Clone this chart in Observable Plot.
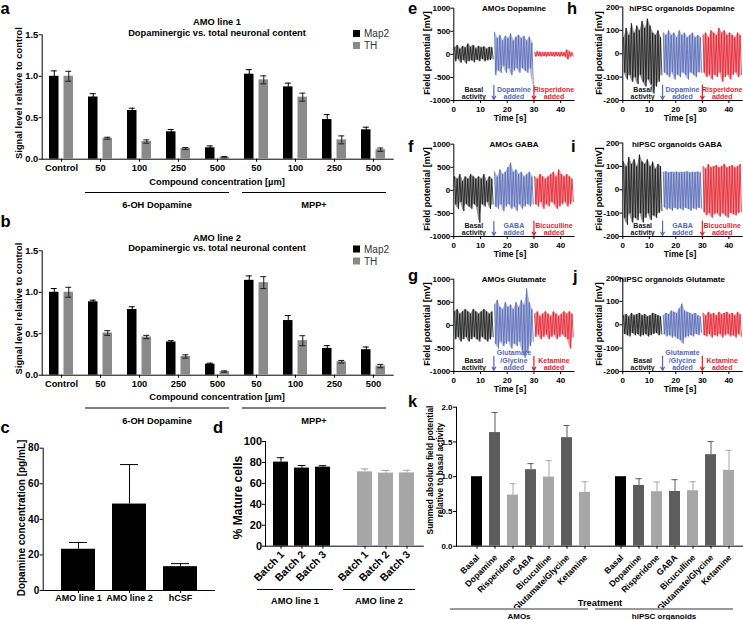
<!DOCTYPE html>
<html><head><meta charset="utf-8">
<script src="https://cdn.jsdelivr.net/npm/d3@7"></script>
<script src="https://cdn.jsdelivr.net/npm/@observablehq/plot@0.6"></script>
<style>
html,body{margin:0;padding:0;background:#fff;overflow:hidden;}
#root{position:relative;width:743px;height:620px;overflow:hidden;background:#fff;}
.panel{position:absolute;}
#overlay{position:absolute;left:0;top:0;pointer-events:none;}
</style></head><body><div id="root"></div>
<script>
// ---------------- DATA ----------------
// panels a, b
const concLabels = ["Control","50","100","250","500","50","100","250","500"];
const aMap2    = [1.00,0.75,0.587,0.33,0.137,1.025,0.872,0.478,0.354];
const aMap2Err = [0.065,0.04,0.028,0.028,0.023,0.055,0.045,0.06,0.032];
const aTH      = [1.00,0.253,0.213,0.129,0.024,0.957,0.748,0.233,0.115];
const aTHErr   = [0.06,0.012,0.02,0.012,0.008,0.048,0.048,0.048,0.02];
const bMap2    = [1.00,0.885,0.792,0.40,0.133,1.144,0.659,0.323,0.307];
const bMap2Err = [0.045,0.02,0.033,0.016,0.012,0.053,0.06,0.033,0.033];
const bTH      = [1.00,0.509,0.46,0.226,0.044,1.116,0.416,0.162,0.11];
const bTHErr   = [0.06,0.028,0.02,0.02,0.008,0.072,0.06,0.016,0.02];
// panel c
const cSamples = ["AMO line 1","AMO line 2","hCSF"];
const cDopa    = [23.2,48.6,13.4];
const cDopaErr = [3.8,22.2,1.7];
// panel d
const dBatches = ["Batch 1","Batch 2","Batch 3"];
const dLines   = ["AMO line 1","AMO line 2"];
const dLine1    = [80.3,74.6,75.5];
const dLine1Err = [4.2,2.5,1.4];
const dLine2    = [71.0,69.8,70.0];
const dLine2Err = [2.8,2.5,2.5];
// panels e-j (envelope of field potential per 1 s bin: basal | drug | antagonist)
const segStart = [0,15,30];
const eHi = [150,200,120,180,150,230,160,200,130,180,150,170,120,160,150, 480,350,420,300,400,350,450,300,380,420,350,400,300,380,250, 40,60,50,40,50,40,50,40,50,40,50,40,100,60,40];
const eLo = [-150,-100,-180,-120,-200,-150,-130,-170,-120,-150,-100,-150,-130,-120,-100, -450,-350,-400,-250,-400,-300,-450,-350,-300,-400,-300,-350,-400,-300,-650, -50,-40,-50,-40,-50,-40,-40,-50,-40,-50,-40,-50,-110,-50,-40];
const fHi = [300,250,350,200,300,250,350,300,250,300,250,350,200,300,250, 400,300,450,350,400,500,600,400,450,350,400,300,350,400,300, 300,250,350,300,250,300,350,400,300,450,350,300,350,300,250];
const fLo = [-300,-400,-250,-450,-300,-350,-400,-300,-350,-700,-300,-350,-250,-400,-300, -350,-400,-300,-450,-350,-300,-400,-350,-450,-300,-400,-350,-300,-350,-300, -300,-350,-250,-400,-300,-350,-250,-300,-400,-350,-300,-250,-350,-300,-250];
const gHi = [300,350,250,300,350,300,250,350,300,250,300,350,300,250,300, 450,550,400,350,500,400,450,350,500,400,550,450,800,500,350, 250,300,200,250,300,250,200,300,250,200,250,300,250,300,250];
const gLo = [-300,-250,-350,-300,-250,-350,-300,-250,-300,-350,-250,-300,-350,-300,-250, -400,-500,-350,-450,-400,-350,-500,-400,-450,-350,-550,-700,-600,-450,-350, -250,-200,-300,-250,-200,-300,-250,-200,-300,-250,-200,-250,-300,-500,-250];
const hHi = [70,110,80,130,90,120,100,140,110,150,120,90,80,100,70, 90,80,100,80,90,70,100,80,90,70,80,90,70,80,70, 80,90,70,100,90,80,110,90,100,80,90,80,70,90,80];
const hLo = [-80,-110,-90,-120,-100,-130,-90,-120,-140,-110,-130,-170,-140,-120,-90, -80,-90,-100,-80,-110,-90,-100,-80,-90,-110,-80,-90,-100,-80,-80, -80,-100,-90,-110,-90,-100,-80,-120,-100,-90,-110,-90,-80,-100,-90];
const iHi = [120,100,140,110,130,100,150,120,110,130,100,120,90,110,100, 75,78,74,76,75,77,74,76,75,78,74,76,75,77,74, 100,90,110,95,100,105,95,100,110,95,100,105,95,100,110];
const iLo = [-120,-150,-100,-140,-120,-130,-100,-140,-120,-100,-130,-110,-120,-100,-90, -75,-85,-80,-90,-78,-85,-80,-88,-78,-82,-90,-80,-85,-78,-80, -95,-110,-100,-120,-105,-100,-115,-100,-110,-120,-100,-105,-110,-100,-95];
const jHi = [40,45,35,50,40,45,50,40,45,35,40,50,45,40,35, 40,50,45,60,55,50,70,90,60,55,50,45,50,40,35, 50,40,55,45,50,40,55,45,50,55,45,50,40,55,45];
const jLo = [-40,-45,-50,-35,-45,-40,-50,-45,-40,-50,-45,-40,-35,-45,-40, -40,-50,-45,-55,-50,-60,-65,-80,-55,-50,-45,-50,-40,-45,-35, -45,-50,-40,-55,-45,-50,-40,-55,-45,-40,-50,-45,-55,-40,-50];
const dopaLabels = ["Basal\nactivity","Dopamine\nadded","Risperidone\nadded"];
const gabaLabels = ["Basal\nactivity","GABA\nadded","Bicuculline\nadded"];
const gluLabels  = ["Basal\nactivity","Glutamate\n/Glycine\nadded","Ketamine\nadded"];
const arrowTimes = [15,30];
// panel k
const kGroups   = ["AMOs","hiPSC organoids"];
const kTreat    = ["Basal","Dopamine","Risperidone","GABA","Bicuculline","Glutamate/Glycine","Ketamine"];
const kTone     = ["basal","dark","light","dark","light","dark","light"];
const kAmo      = [1.00,1.635,0.736,1.101,0.995,1.562,0.774];
const kAmoErr   = [0,0.288,0.163,0.087,0.236,0.174,0.154];
const kIpsc     = [1.00,0.875,0.784,0.788,0.798,1.317,1.091];
const kIpscErr  = [0,0.096,0.139,0.169,0.13,0.188,0.289];

// ---------------- STYLE / HELPERS ----------------
const FONT = '"Liberation Sans", Arial, sans-serif';
const segColors = ["#151515","#5468b6","#e41f2c"];
const toneColor = {basal:"#000000", dark:"#5d5d5d", light:"#a7a7a7"};
const root = document.getElementById("root");
const st = (fs) => ({fontFamily: FONT, fontSize: fs + "px", fontWeight: "bold", background: "transparent", color: "#000", maxWidth: "none", overflow: "visible"});
function mount(svg, left, top) {
  const d = document.createElement("div");
  d.className = "panel"; d.style.left = left + "px"; d.style.top = top + "px";
  d.appendChild(svg); root.appendChild(d);
}

// ---------------- PANELS a, b ----------------
function plotAB(map2, map2Err, th, thErr) {
  const keys = concLabels.map((l, i) => i + ":" + l);
  const rows = keys.map((k, i) => ({k, m: map2[i], me: map2Err[i], t: th[i], te: thErr[i]}));
  const err = (v, e, dx, c) => [
    Plot.ruleX(rows, {x: "k", y1: d => d[v] - d[e], y2: d => d[v] + d[e], dx, stroke: c}),
    Plot.tickY(rows, {x: "k", y: d => d[v] + d[e], dx, inset: 9, stroke: c}),
    Plot.tickY(rows, {x: "k", y: d => d[v] - d[e], dx, inset: 9, stroke: c})
  ];
  return Plot.plot({
    width: 400, height: 180, marginLeft: 41.7, marginRight: 7.3, marginTop: 34.3, marginBottom: 21.3,
    style: st(9.3),
    x: {domain: keys, paddingInner: 0.39, paddingOuter: 0.16, tickSize: 3, tickPadding: 1.7, tickFormat: k => k.split(":")[1], label: null, line: true},
    y: {domain: [0, 1.5], ticks: [0, 0.5, 1, 1.5], tickFormat: d3.format(".1f"), tickSize: 3, tickPadding: 1, label: null, line: true},
    marks: [
      Plot.barY(rows, {x: "k", y: "m", fill: "#000", insetRight: 14.5}),
      Plot.barY(rows, {x: "k", y: "t", fill: "#8a8a8a", insetLeft: 14.5}),
      ...err("m", "me", -7.25, "#000"),
      ...err("t", "te", 7.25, "#1a1a1a")
    ]
  });
}
mount(plotAB(aMap2, aMap2Err, aTH, aTHErr), 0, 0);
mount(plotAB(bMap2, bMap2Err, bTH, bTHErr), 0, 215.5);

// ---------------- PANEL c ----------------
{
  const rows = cSamples.map((s, i) => ({s, v: cDopa[i], e: cDopaErr[i]}));
  mount(Plot.plot({
    width: 220, height: 185, marginLeft: 42.7, marginRight: 6, marginTop: 17.7, marginBottom: 25,
    style: st(10),
    x: {domain: cSamples, paddingInner: 0.34, paddingOuter: 0.336, tickSize: 3, tickFormat: () => "", label: null, line: true},
    y: {domain: [0, 80], ticks: [0, 20, 40, 60, 80], tickSize: 3, tickPadding: 1, label: null, line: true},
    marks: [
      Plot.barY(rows, {x: "s", y: "v", fill: "#000"}),
      Plot.ruleX(rows, {x: "s", y1: "v", y2: d => d.v + d.e, stroke: "#000"}),
      Plot.tickY(rows, {x: "s", y: d => d.v + d.e, inset: 8, stroke: "#000"}),
      Plot.text(rows, {x: "s", text: "s", frameAnchor: "bottom", dy: 10, fontSize: 9})
    ]
  }), 0, 430);
}

// ---------------- PANEL d ----------------
{
  const rows = [];
  dLines.forEach((ln, li) => dBatches.forEach((b, bi) => rows.push({
    k: ln + "|" + b, b, v: (li ? dLine2 : dLine1)[bi], e: (li ? dLine2Err : dLine1Err)[bi], c: li ? "#a6a6a6" : "#000"
  })));
  const domain = [...rows.slice(0, 3).map(d => d.k), "gap", ...rows.slice(3).map(d => d.k)];
  mount(Plot.plot({
    width: 195, height: 190, marginLeft: 35, marginRight: 2.2, marginTop: 11, marginBottom: 74.3,
    style: st(11),
    x: {domain, ticks: rows.map(d => d.k), paddingInner: 0.27, paddingOuter: 0.34, tickSize: 3, tickFormat: () => "", label: null, line: true},
    y: {domain: [0, 100], ticks: [0, 20, 40, 60, 80, 100], tickSize: 3, tickPadding: 0.5, label: null, line: true},
    color: {type: "identity"},
    marks: [
      Plot.barY(rows, {x: "k", y: "v", fill: "c"}),
      Plot.ruleX(rows, {x: "k", y1: "v", y2: d => d.v + d.e, stroke: "c"}),
      Plot.tickY(rows, {x: "k", y: d => d.v + d.e, inset: 3.8, stroke: "c"}),
      Plot.text(rows, {x: "k", text: "b", frameAnchor: "bottom", rotate: -45, textAnchor: "end", dx: 4, dy: 9, fontSize: 10.5})
    ]
  }), 230, 430);
}

// ---------------- PANEL k ----------------
{
  const rows = [];
  kGroups.forEach((g, gi) => kTreat.forEach((t, ti) => rows.push({
    k: g + "|" + t, t, v: (gi ? kIpsc : kAmo)[ti], e: (gi ? kIpscErr : kAmoErr)[ti], c: toneColor[kTone[ti]]
  })));
  const domain = [...rows.slice(0, 7).map(d => d.k), "gap", ...rows.slice(7).map(d => d.k)];
  const withErr = rows.filter(d => d.e > 0);
  mount(Plot.plot({
    width: 350, height: 225, marginLeft: 56, marginRight: 0.8, marginTop: 11.7, marginBottom: 74.3,
    style: st(8),
    x: {domain, ticks: rows.map(d => d.k), paddingInner: 0.4, paddingOuter: 0.54, tickSize: 3, tickFormat: () => "", label: null, line: true},
    y: {domain: [0, 2], ticks: [0, 0.5, 1, 1.5, 2], tickFormat: d3.format(".1f"), tickSize: 3, tickPadding: 1, label: null, line: true},
    color: {type: "identity"},
    marks: [
      Plot.barY(rows, {x: "k", y: "v", fill: "c"}),
      Plot.ruleX(withErr, {x: "k", y1: "v", y2: d => d.v + d.e, stroke: "c"}),
      Plot.tickY(withErr, {x: "k", y: d => d.v + d.e, inset: 2.4, stroke: "c"}),
      Plot.text(rows, {x: "k", text: "t", frameAnchor: "bottom", rotate: -45, textAnchor: "end", dx: 3, dy: 12, fontSize: 8.6})
    ]
  }), 400, 395);
}

// ---------------- PANELS e-j ----------------
function tracePlot(hi, lo, ymax, labels, ml, mt, w) {
  const rows = hi.map((h, i) => ({seg: Math.floor(i / 15), t: segStart[Math.floor(i / 15)] + (i % 15) + 0.5, hi: h, lo: lo[i]}));
  const marks = [];
  segStart.forEach((s, si) => {
    const r = rows.filter(d => d.seg === si);
    const zig = r.flatMap(d => [{t: d.t - 0.25, v: d.hi}, {t: d.t + 0.25, v: d.lo}]);
    marks.push(Plot.areaY(r, {x: "t", y1: "lo", y2: "hi", fill: segColors[si], fillOpacity: 0.45}));
    marks.push(Plot.line(zig, {x: "t", y: "v", stroke: segColors[si], strokeWidth: 0.8}));
  });
  labels.forEach((l, i) => marks.push(Plot.text([segStart[i] + 7.5], {
    x: d => d, text: () => l, fill: segColors[i], frameAnchor: "bottom", lineAnchor: "bottom", dy: -1.5, fontSize: 7, lineHeight: 1.05
  })));
  const yTop = -ymax + 0.33 * ymax, yTip = -ymax + 0.025 * ymax;
  arrowTimes.forEach((t, i) => marks.push(Plot.arrow([t], {
    x1: d => d, x2: d => d, y1: () => yTop, y2: () => yTip, stroke: segColors[i + 1], strokeWidth: 1.2, headLength: 4.5
  })));
  return Plot.plot({
    width: w, height: 125, marginLeft: ml, marginRight: w - ml - (w === 155.5 ? 120.2 : 119.3), marginTop: mt, marginBottom: 25,
    style: st(8),
    x: {domain: [0, 45], ticks: [0, 10, 20, 30, 40], tickSize: 3, tickPadding: 2.8, label: null, line: true},
    y: {domain: [-ymax, ymax], ticks: [-ymax, -ymax / 2, 0, ymax / 2, ymax], tickFormat: d => (d < 0 ? "-" + Math.abs(d) : String(d)), tickSize: 3, tickPadding: 0.5, label: null, line: true},
    marks
  });
}
mount(tracePlot(eHi, eLo, 1000, dopaLabels, 33.3, 7.7, 155.5), 420, 0);
mount(tracePlot(fHi, fLo, 1000, gabaLabels, 33.3, 7.7, 155.5), 420, 136);
mount(tracePlot(gHi, gLo, 1000, gluLabels, 33.3, 7.7, 155.5), 420, 271);
mount(tracePlot(hHi, hLo, 200, dopaLabels, 32.3, 6.5, 153), 590, 0);
mount(tracePlot(iHi, iLo, 200, gabaLabels, 32.3, 6.5, 153), 590, 136);
mount(tracePlot(jHi, jLo, 200, gluLabels, 32.3, 6.5, 153), 590, 271);

// ---------------- OVERLAY TEXT ----------------
const ov = d3.select(root).append("svg").attr("id", "overlay").attr("width", 743).attr("height", 620)
  .style("font-family", FONT);
function txt(x, y, s, o = {}) {
  const {size = 9.3, weight = "bold", anchor = "middle", rot = 0, fill = "#000"} = o;
  ov.append("text").attr("transform", `translate(${x},${y})` + (rot ? ` rotate(${rot})` : ""))
    .attr("text-anchor", anchor).attr("font-size", size).attr("font-weight", weight).attr("fill", fill).text(s);
}
function hline(x1, x2, y, c = "#000", w = 1) {
  ov.append("line").attr("x1", x1).attr("x2", x2).attr("y1", y).attr("y2", y).attr("stroke", c).attr("stroke-width", w);
}
// letters
[["a",0.5,13.5],["b",0.5,227.2],["c",0.5,433],["d",213,433],["e",408,13.5],["h",567,13.5],["f",408,152],["i",571,152],["g",408,281],["j",573,282],["k",408,407]]
  .forEach(([s, x, y]) => txt(x, y, s, {size: 16.5, anchor: "start"}));
// a, b
[[0, "AMO line 1"], [215.5, "AMO line 2"]].forEach(([dy, t]) => {
  txt(217, 25 + dy, t);
  txt(217, 35.5 + dy, "Dopaminergic vs. total neuronal content");
  ov.append("rect").attr("x", 353).attr("y", 30 + dy).attr("width", 7).attr("height", 7).attr("fill", "#000");
  ov.append("rect").attr("x", 353).attr("y", 42 + dy).attr("width", 7).attr("height", 7).attr("fill", "#8a8a8a");
  txt(364, 37 + dy, "Map2", {size: 10, weight: "normal", anchor: "start", fill: "#333"});
  txt(364, 49 + dy, "TH", {size: 10, weight: "normal", anchor: "start", fill: "#333"});
  txt(21.5, 93 + dy, "Signal level relative to control", {rot: -90});
  txt(217, 184.5 + dy, "Compound concentration [µm]");
  hline(85, 229, 192.5 + dy); hline(242, 386, 192.5 + dy);
  txt(157, 208 + dy, "6-OH Dopamine"); txt(314, 208 + dy, "MPP+");
});
// c
txt(24.5, 518, "Dopamine concentration [pg/mL]", {size: 10, rot: -90});
// d
txt(242, 497.5, "% Mature cells", {size: 12, rot: -90});
hline(257, 333, 589.5); hline(343, 415, 589.5);
txt(295, 603.5, dLines[0]); txt(379, 603.5, dLines[1]);
// k
txt(433, 470, "Summed absolute field potential", {size: 8.4, rot: -90});
txt(443, 470, "relative to basal activity", {size: 8.4, rot: -90});
txt(600, 605.5, "Treatment");
hline(450, 588, 609, "#999", 2); hline(595, 733, 609, "#999", 2);
txt(519, 618.5, kGroups[0], {size: 8}); txt(664, 618.5, kGroups[1], {size: 8});
// traces
[[0, "AMOs Dopamine", "hiPSC organoids Dopamine", 682], [136, "AMOs GABA", "hiPSC organoids GABA", 677], [271, "AMOs Glutamate", "hiPSC organoids Glutamate", 672]]
  .forEach(([dy, t1, t2, x2]) => {
    txt(514, 10.5 + dy, t1, {size: 8});
    txt(x2, 10.5 + dy, t2, {size: 8});
    txt(430, 53 + dy, "Field potential [mV]", {size: 9, rot: -90});
    txt(602, 53 + dy, "Field potential [mV]", {size: 9, rot: -90});
    txt(510, 121 + dy, "Time [s]", {size: 8.5});
    txt(680, 121 + dy, "Time [s]", {size: 8.5});
  });
</script></body></html>
